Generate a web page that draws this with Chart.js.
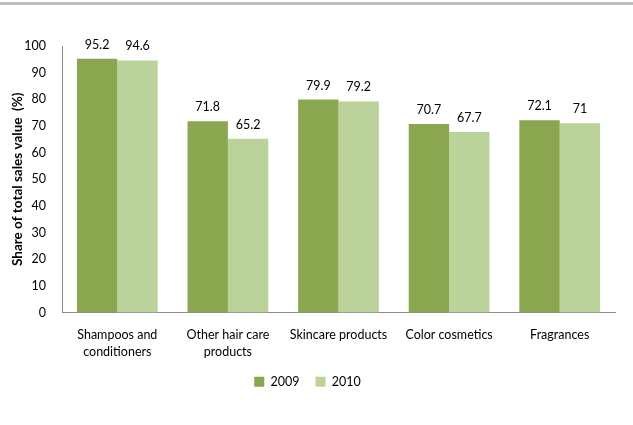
<!DOCTYPE html>
<html>
<head>
<meta charset="utf-8">
<script src="https://cdn.jsdelivr.net/npm/chart.js@4"></script>
<style>
  html, body { margin: 0; padding: 0; background: #ffffff; }
  #wrap { width: 633px; height: 425px; position: relative; }
</style>
</head>
<body>
<div id="wrap"><canvas id="c" width="633" height="425"></canvas></div>
<script>
// Product categories (multi-line where the label wraps)
const categories = [
  ['Shampoos and', 'conditioners'],
  ['Other hair care', 'products'],
  'Skincare products',
  'Color cosmetics',
  'Fragrances'
];
const seriesNames = ['2009', '2010'];
const values2009 = [95.2, 71.8, 79.9, 70.7, 72.1];
const values2010 = [94.6, 65.2, 79.2, 67.7, 71];
const yTicks = [0, 10, 20, 30, 40, 50, 60, 70, 80, 90, 100];

const FONT = 'Lato, "Open Sans", sans-serif';
const TEXT = '#000000';

// Thin grey rule across the top of the canvas
const topRule = {
  id: 'topRule',
  beforeDraw(chart) {
    const ctx = chart.ctx;
    ctx.save();
    ctx.fillStyle = '#bfbfbf';
    ctx.fillRect(0, 2, chart.width, 3);
    ctx.restore();
  }
};

// Value labels above each bar
const valueLabels = {
  id: 'valueLabels',
  afterDatasetsDraw(chart) {
    const ctx = chart.ctx;
    ctx.save();
    ctx.font = '12.5px ' + FONT;
    ctx.fillStyle = TEXT;
    ctx.textAlign = 'center';
    ctx.textBaseline = 'middle';
    chart.data.datasets.forEach((ds, i) => {
      const meta = chart.getDatasetMeta(i);
      meta.data.forEach((bar, j) => {
        ctx.fillText(String(ds.data[j]), bar.x, bar.y - 14);
      });
    });
    ctx.restore();
  }
};

new Chart(document.getElementById('c'), {
  type: 'bar',
  data: {
    labels: categories,
    datasets: [
      { label: seriesNames[0], data: values2009, backgroundColor: '#8aa74f', borderWidth: 0 },
      { label: seriesNames[1], data: values2010, backgroundColor: '#bcd29b', borderWidth: 0 }
    ]
  },
  options: {
    responsive: false,
    animation: false,
    events: [],
    layout: { padding: { top: 46, right: 18, left: 0, bottom: 27 } },
    datasets: {
      bar: { categoryPercentage: 0.73, barPercentage: 1.0 }
    },
    plugins: {
      legend: {
        position: 'bottom',
        labels: {
          font: { family: FONT, size: 12.5 },
          color: TEXT,
          boxWidth: 10,
          boxHeight: 10,
          padding: 16
        }
      },
      tooltip: { enabled: false }
    },
    scales: {
      x: {
        afterFit(scale) { scale.height = 47; },
        grid: { display: false, drawTicks: false },
        border: { display: true, color: '#8c8c8c', width: 1 },
        ticks: {
          font: { family: FONT, size: 12.5, lineHeight: 1.36 },
          color: TEXT,
          padding: 13.5,
          maxRotation: 0,
          autoSkip: false
        }
      },
      y: {
        min: 0,
        max: 100,
        afterBuildTicks(scale) {
          scale.ticks = yTicks.map(v => ({ value: v }));
        },
        afterFit(scale) { scale.width = 62; },
        grid: { display: false, drawTicks: false },
        border: { display: true, color: '#8c8c8c', width: 1 },
        ticks: {
          font: { family: FONT, size: 12.5 },
          color: TEXT,
          padding: 16
        },
        title: {
          display: true,
          text: 'Share of total sales value  (%)',
          font: { family: FONT, size: 13.5, weight: 'bold' },
          color: TEXT,
          padding: { top: 10, bottom: 0 }
        }
      }
    }
  },
  plugins: [topRule, valueLabels]
});
</script>
</body>
</html>
